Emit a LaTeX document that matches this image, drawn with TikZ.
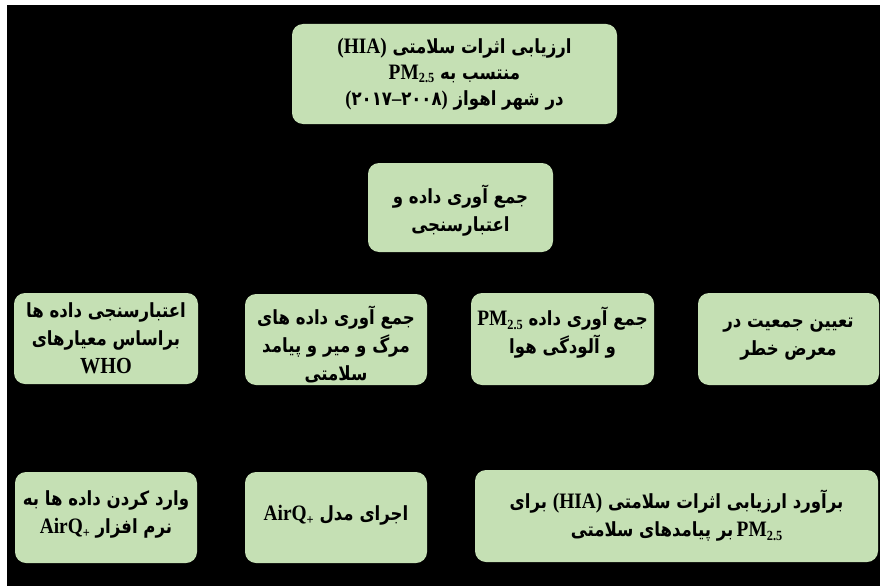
\documentclass[tikz,border=0pt]{standalone}
\usepackage{fontspec}
\TeXXeTstate=1
\newfontfamily\fa[Script=Arabic,FakeStretch=0.85]{DejaVu Sans}
\newfontfamily\fadig[FakeStretch=0.85]{DejaVu Sans}
\newfontfamily\lat[FakeStretch=0.88]{Liberation Serif}
\definecolor{boxgreen}{HTML}{C5E0B4}
\newcommand{\LL}[1]{\beginL{\lat\fontsize{22}{22}\selectfont #1}\endL}
\newcommand{\PMt}{PM\raisebox{-0.35ex}{\fontsize{14}{14}\selectfont 2.5}}
\newcommand{\AQ}{AirQ\raisebox{-0.35ex}{\fontsize{14}{14}\selectfont +}}
\newcommand{\RL}[1]{\beginR #1\endR}
\tikzset{
  box/.style={fill=boxgreen, rounded corners=11pt, inner sep=0pt},
  lbl/.style={align=center, inner sep=0pt, font=\fa\bfseries\fontsize{19.5}{28}\selectfont},
}
\begin{document}
\begin{tikzpicture}[x=1pt,y=1pt]
\useasboundingbox (0,0) rectangle (880,-586);
\fill[white] (0,0) rectangle (880,-586);
\fill[black] (7,-5) rectangle (880,-586);

\node[box, minimum width=325pt, minimum height=100pt] (top) at (454.5,-74) {};
\node[lbl, font=\fa\bfseries\fontsize{19.5}{26}\selectfont] (ttop) at (top.center)
  {\RL{ارزیابی اثرات سلامتی \LL{(HIA)}}\\
   \RL{منتسب به \LL{\PMt}}\\
   \RL{در شهر اهواز \beginL{\lat\fontsize{21}{21}\selectfont(}{\fadig ۲۰۱۷}{\lat\fontsize{21}{21}\selectfont–}{\fadig ۲۰۰۸}{\lat\fontsize{21}{21}\selectfont)}\endL}};

\node[box, minimum width=185pt, minimum height=89pt] (col) at (460.5,-207.5) {};
\node[lbl, yshift=-3pt] (tcol) at (col.center)
  {\RL{جمع آوری داده و}\\ \RL{اعتبارسنجی}};

\node[box, minimum width=184pt, minimum height=91pt] (a) at (106,-338.5) {};
\node[lbl] (ta) at (a.center)
  {\RL{اعتبارسنجی داده ها}\\ \RL{براساس معیارهای}\\ \beginL{\lat\fontsize{23}{23}\selectfont WHO}\endL};

\node[box, minimum width=182pt, minimum height=91pt] (b) at (336,-339.5) {};
\node[lbl, yshift=-5pt] (tb) at (b.center)
  {\RL{جمع آوری داده های}\\ \RL{مرگ و میر و پیامد}\\ \RL{سلامتی}};

\node[box, minimum width=183pt, minimum height=92pt] (c) at (562.5,-339) {};
\node[lbl, yshift=6pt] (tc) at (c.center)
  {\RL{جمع آوری داده \LL{\PMt}}\\ \RL{و آلودگی هوا}};

\node[box, minimum width=181pt, minimum height=92pt] (d) at (788.5,-339) {};
\node[lbl] (td) at (d.center)
  {\RL{تعیین جمعیت در}\\ \RL{معرض خطر}};

\node[box, minimum width=182pt, minimum height=91pt] (e) at (106,-517.5) {};
\node[lbl, yshift=3pt] (te) at (e.center)
  {\RL{وارد کردن داده ها به}\\ \RL{نرم افزار \LL{\AQ}}};

\node[box, minimum width=182pt, minimum height=91pt] (f) at (336,-517.5) {};
\node[lbl, yshift=2pt] (tf) at (f.center)
  {\RL{اجرای مدل \LL{\AQ}}};

\node[box, minimum width=403pt, minimum height=92pt] (g) at (676.5,-516) {};
\node[lbl] (tg) at (g.center)
  {\RL{برآورد ارزیابی اثرات سلامتی \LL{(HIA)} برای}\\
   \RL{\LL{\PMt}\,بر پیامدهای سلامتی}};
\end{tikzpicture}
\end{document}
